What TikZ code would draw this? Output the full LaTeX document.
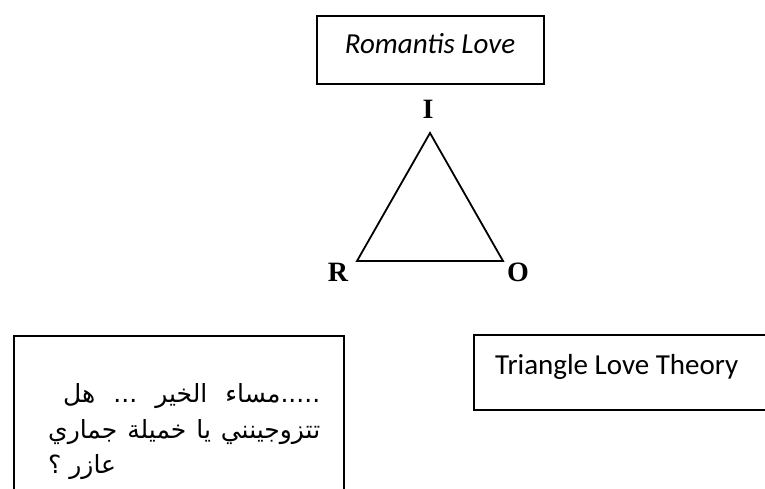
\documentclass[tikz,border=0pt]{standalone}
\usepackage{fontspec}
\setmainfont{Carlito}
\newfontfamily\serifb{Liberation Serif}
\newfontfamily\arabicfont[Script=Arabic]{DejaVu Sans}
\TeXXeTstate=1
\begin{document}
\begin{tikzpicture}[x=1pt,y=-1pt,
  frame/.style={draw=black,line width=1.8pt,rectangle,inner sep=0pt},
  corner/.style={font=\serifb\fontsize{28}{28}\selectfont\bfseries,inner sep=0pt,anchor=base},
  artext/.style={font=\arabicfont\fontsize{25}{30}\selectfont,inner sep=0pt,anchor=base west},
  edge/.style={draw=black,line width=1.8pt,line join=miter}]
\useasboundingbox (0,0) rectangle (765,489);
\clip (0,0) rectangle (765,489);
% top box
\node[frame,minimum width=227pt,minimum height=68pt,anchor=north west] (rl) at (316,15) {};
\node[font=\fontsize{29}{29}\selectfont\itshape,inner sep=0pt,anchor=base] (rltext) at (430,54) {Romantis Love};
% triangle
\coordinate (ti) at (430,133);
\coordinate (tr) at (357,261);
\coordinate (to) at (503,261);
\draw[edge] (ti) -- (tr) -- (to) -- cycle;
\node[corner] (I) at (428,119) {I};
\node[corner] (R) at (338,281) {R};
\node[corner] (O) at (518,281) {O};
% right box
\node[frame,minimum width=320pt,minimum height=75pt,anchor=north west] (tl) at (473,334) {};
\node[font=\fontsize{29}{29}\selectfont,inner sep=0pt,anchor=base west] (tltext) at (495,374) {Triangle Love Theory};
% left box
\node[frame,minimum width=330pt,minimum height=180pt,anchor=north west] (ar) at (13,335) {};
\node[artext] (l1) at (63,402) {\hbox to 257pt{\beginR .....مساء\hfill الخير\hfill ...\hfill هل\endR}};
\node[artext] (l2) at (48,438) {\hbox to 272pt{\beginR تتزوجينني\hfill يا\hfill خميلة\hfill جماري\endR}};
\node[artext] (l3) at (48,473) {\beginR عازر ؟\endR};
\end{tikzpicture}
\end{document}
